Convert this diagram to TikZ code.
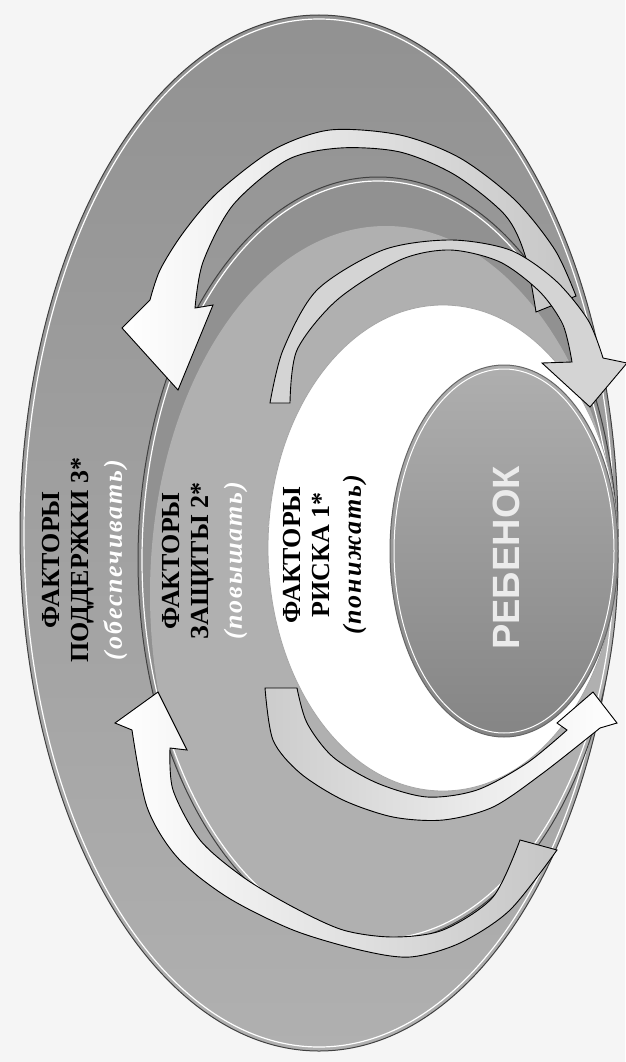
\documentclass[tikz,border=0pt]{standalone}
\usepackage{fontspec}
\setmainfont{Liberation Serif}
\newfontfamily\kidfont{Liberation Sans}
\newcommand\hintfont{\bfseries\itshape\addfontfeature{LetterSpace=7}}
\usetikzlibrary{calc}

\definecolor{paper}{gray}{0.96}
\definecolor{ringgray}{gray}{0.69}
\definecolor{ringdark}{gray}{0.57}
\definecolor{kidgray}{gray}{0.65}
\definecolor{arrowgray}{gray}{0.83}

\pgfdeclareradialshading{whitecore}{\pgfpoint{0bp}{0bp}}{color(0bp)=(white); color(33bp)=(white); color(50bp)=(gray!45)}

\tikzset{
  ring/.style={draw=black!75, line width=1pt},
  rim/.style={draw=white, line width=1.2pt},
  arrowline/.style={draw=black, line width=0.9pt, line join=miter},
  factor/.style={rotate=90, align=center, font=\bfseries\fontsize{26}{29}\selectfont},
}

\begin{document}
\begin{tikzpicture}[x=1pt, y=-1pt]
	\useasboundingbox (0,0) rectangle (625,1062);
	\fill[paper] (0,0) rectangle (625,1062);
	
	\coordinate (e3) at (319,533);
	\coordinate (e2) at (378,560);
	\coordinate (e1) at (443,548);
	\coordinate (e0) at (504,551);
	
	% outer ring: support
	\shade[top color=ringdark, bottom color=ringgray] (e3) ellipse [x radius=299, y radius=518];
	\draw[ring] (e3) ellipse [x radius=299, y radius=518];
	\draw[rim] (e3) ellipse [x radius=295, y radius=514];
	
	% second ring: protection
	\begin{scope}
		\clip (e2) ellipse [x radius=240, y radius=383];
		\fill[ringdark] (e2) ellipse [x radius=240, y radius=383];
		\fill[ringgray] ($(e2)+(8,34)$) ellipse [x radius=236, y radius=368];
	\end{scope}
	\draw[ring] (e2) ellipse [x radius=240, y radius=383];
	\draw[rim] (e2) ellipse [x radius=236, y radius=379];
	
	% white ring: risk
	\shade[shading=whitecore] (e1) ellipse [x radius=175, y radius=243];
	\draw[draw=gray!70, line width=0.8pt] (e1) ellipse [x radius=175, y radius=243];
	\draw[draw=white, line width=0.8pt] (e1) ellipse [x radius=172, y radius=240];
	
	% child
	\shade[top color=kidgray!90, bottom color=kidgray!80!black] (e0) ellipse [x radius=114, y radius=186];
	\draw[draw=black!60, line width=1pt] (e0) ellipse [x radius=114, y radius=186];
	\draw[draw=white, line width=1pt] (e0) ellipse [x radius=110, y radius=182];
	
	% arrows, top
	\filldraw[arrowline, left color=white, right color=gray!45]
		plot[smooth] coordinates {(576,296) (555,250) (515,200) (460,158) (400,135) (330,130) (273,150) (217,193) (183,233) (160,270) (150,300)}
		-- (122,328) -- (178,390) -- (213,305)
		-- plot[smooth] coordinates {(195,308) (203,262) (233,205) (287,160) (340,148) (400,152) (455,175) (505,215) (525,255) (536,312)}
		-- cycle;
	
	\filldraw[arrowline, fill=arrowgray]
		plot[smooth] coordinates {(270,403) (283,350) (317,290) (383,250) (450,240) (510,250) (555,280) (588,320) (603,358)}
		-- (627,363) -- (590,407) -- (542,363)
		-- plot[smooth] coordinates {(572,362) (563,325) (540,292) (500,262) (450,250) (400,260) (337,300) (297,350) (290,403)}
		-- cycle;
	
	% arrows, bottom
	\filldraw[arrowline, left color=gray!40, right color=white]
		plot[smooth] coordinates {(265,688) (273,740) (300,773) (343,800) (393,817) (443,820) (493,807) (543,773) (600,728)}
		-- (617,723) -- (593,692) -- (557,723)
		-- plot[smooth] coordinates {(567,730) (527,763) (477,790) (427,797) (377,783) (333,757) (307,723) (297,688)}
		-- cycle;
	
	\filldraw[arrowline, left color=white, right color=gray!45]
		plot[smooth] coordinates {(557,850) (510,910) (460,943) (410,957) (360,950) (293,930) (227,897) (177,857) (147,807) (132,730)}
		-- (115,723) -- (158,692) -- (187,750)
		-- plot[smooth] coordinates {(170,748) (173,790) (200,840) (243,877) (293,907) (343,930) (393,937) (443,930) (493,897) (520,840)}
		-- cycle;
	
	% labels
	\node[factor] (support) at (85,560) {ФАКТОРЫ\\ПОДДЕРЖКИ 3*\\[4pt]{\color{white}\hintfont (обеспечивать)}};
	\node[factor] (protect) at (205,561) {ФАКТОРЫ\\ЗАЩИТЫ 2*\\[4pt]{\color{white}\hintfont (повышать)}};
	\node[factor] (risk) at (325,555) {ФАКТОРЫ\\РИСКА 1*\\[2pt]{\hintfont (понижать)}};
	\node[rotate=90, text=white!92!black, font=\kidfont\bfseries\fontsize{38}{40}\selectfont] (child) at (506,558) {РЕБЕНОК};
	
\end{tikzpicture}
\end{document}
